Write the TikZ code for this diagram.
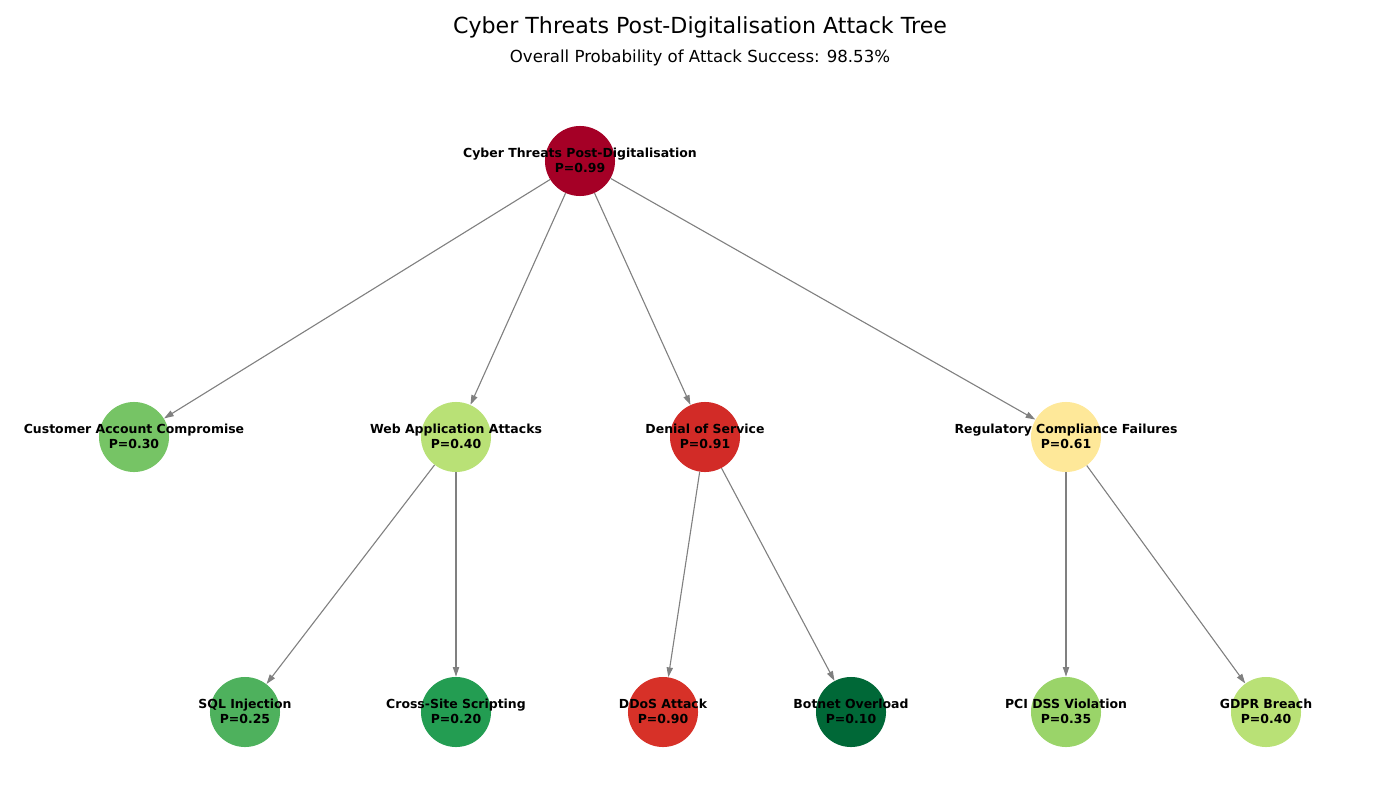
\documentclass[tikz,border=0pt]{standalone}
\usepackage{fontspec}
\setmainfont{DejaVu Sans}
\usetikzlibrary{arrows.meta}

\definecolor{pRoot}{HTML}{A50026}
\definecolor{pCac}{HTML}{76C465}
\definecolor{pWeb}{HTML}{B9E176}
\definecolor{pDos}{HTML}{D22B27}
\definecolor{pReg}{HTML}{FEE899}
\definecolor{pSql}{HTML}{4EB15D}
\definecolor{pXss}{HTML}{239D52}
\definecolor{pDdos}{HTML}{D73128}
\definecolor{pBot}{HTML}{006837}
\definecolor{pPci}{HTML}{9AD469}
\definecolor{pGdpr}{HTML}{B9E176}

\begin{document}
\begin{tikzpicture}[x=0.01in,y=-0.01in,
    threat/.style={circle,minimum size=0.7in,inner sep=0pt},
    plabel/.style={align=center,inner sep=0pt,font=\fontsize{9}{10.8}\selectfont\bfseries},
    edge/.style={draw=gray,line width=0.8pt,-{Triangle[length=7pt,width=4.5pt]}}]
                \useasboundingbox (0,0) rectangle (1400,785);

                \node (title) at(700,27) {\fontsize{16}{19}\selectfont Cyber Threats Post-Digitalisation Attack Tree};
                \node (subtitle) at(700,58) {\fontsize{12}{14}\selectfont Overall Probability of Attack Success: 98.53\%};

                \node[threat,fill=pRoot] (root) at(580,161) {};

                \node[threat,fill=pCac] (cac) at(134,437) {};
                \node[threat,fill=pWeb] (web) at(456,437) {};
                \node[threat,fill=pDos] (dos) at(705,437) {};
                \node[threat,fill=pReg] (reg) at(1066,437) {};

                \node[threat,fill=pSql] (sql) at(245,712) {};
                \node[threat,fill=pXss] (xss) at(456,712) {};
                \node[threat,fill=pDdos] (ddos) at(663,712) {};
                \node[threat,fill=pBot] (bot) at(851,712) {};
                \node[threat,fill=pPci] (pci) at(1066,712) {};
                \node[threat,fill=pGdpr] (gdpr) at(1266,712) {};

                \draw[edge] (root)--(cac);
                \draw[edge] (root)--(web);
                \draw[edge] (root)--(dos);
                \draw[edge] (root)--(reg);
                \draw[edge] (web)--(sql);
                \draw[edge] (web)--(xss);
                \draw[edge] (dos)--(ddos);
                \draw[edge] (dos)--(bot);
                \draw[edge] (reg)--(pci);
                \draw[edge] (reg)--(gdpr);

                \node[plabel] (rootl) at(580,160) {Cyber Threats Post-Digitalisation\\P=0.99};
                \node[plabel] (cacl) at(134,436) {Customer Account Compromise\\P=0.30};
                \node[plabel] (webl) at(456,436) {Web Application Attacks\\P=0.40};
                \node[plabel] (dosl) at(705,436) {Denial of Service\\P=0.91};
                \node[plabel] (regl) at(1066,436) {Regulatory Compliance Failures\\P=0.61};
                \node[plabel] (sqll) at(245,711) {SQL Injection\\P=0.25};
                \node[plabel] (xssl) at(456,711) {Cross-Site Scripting\\P=0.20};
                \node[plabel] (ddosl) at(663,711) {DDoS Attack\\P=0.90};
                \node[plabel] (botl) at(851,711) {Botnet Overload\\P=0.10};
                \node[plabel] (pcil) at(1066,711) {PCI DSS Violation\\P=0.35};
                \node[plabel] (gdprl) at(1266,711) {GDPR Breach\\P=0.40};
            \end{tikzpicture}
\end{document}
